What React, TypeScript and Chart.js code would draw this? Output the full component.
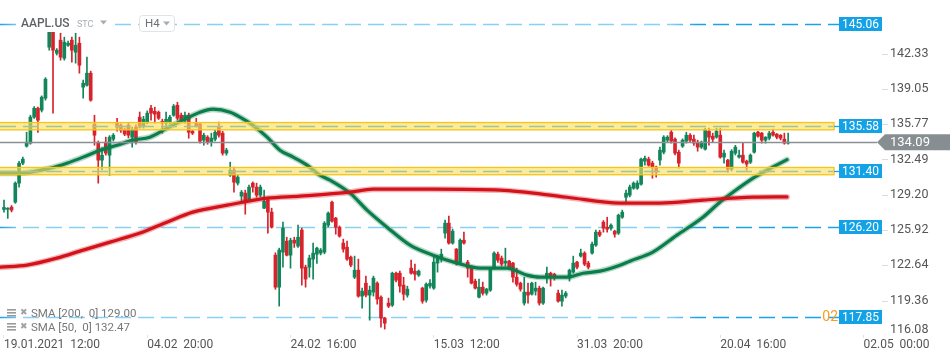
import React, { useEffect, useRef } from 'react';
import { Chart, registerables } from 'chart.js';
Chart.register(...registerables);

const OPEN = [127.83,127.85,128.04,128.51,130.28,132.14,133.72,134.00,136.42,137.25,137.07,138.18,142.93,144.50,142.37,143.58,141.90,143.11,143.58,142.46,143.30,139.21,139.39,140.51,135.77,134.00,132.42,134.09,132.88,134.37,135.86,135.67,135.21,135.67,134.56,135.49,136.42,135.58,135.95,137.25,136.97,136.88,136.04,135.86,135.95,136.60,137.53,136.60,136.32,136.60,135.11,135.86,135.77,134.28,134.56,134.09,134.37,135.49,134.93,133.07,131.02,131.49,130.28,129.07,129.35,128.70,130.28,129.91,129.16,127.95,128.70,127.58,123.58,120.60,123.86,124.88,123.58,124.97,124.42,125.91,122.46,122.46,123.21,123.67,123.77,123.86,126.37,128.51,127.02,126.18,124.70,124.32,123.39,121.53,122.18,119.77,120.97,119.86,120.14,120.97,119.67,117.72,119.12,118.93,121.90,121.90,120.79,119.86,122.37,122.09,121.72,120.51,119.40,120.70,120.51,122.84,123.21,125.63,126.56,124.70,124.14,122.93,124.97,122.93,122.46,121.16,119.67,120.60,120.04,120.32,122.37,123.67,123.30,122.84,123.02,122.84,121.53,120.97,119.12,120.14,119.95,120.23,120.51,119.12,121.53,121.90,121.81,120.04,119.30,119.77,121.44,122.00,122.93,123.49,123.77,122.84,123.77,124.51,125.72,126.65,126.18,126.09,125.81,125.63,127.11,128.97,129.16,129.81,129.81,130.18,132.32,132.51,132.14,131.77,132.42,133.16,134.28,135.02,134.37,133.16,133.72,134.18,134.74,134.37,134.09,133.63,133.44,135.11,134.65,134.56,134.74,132.70,132.42,131.58,133.07,132.70,132.88,132.32,132.23,133.16,135.02,134.93,134.28,134.46,135.02,134.84,134.74,134.37,134.00];
const HIGH = [128.70,128.00,128.20,130.40,132.30,132.70,135.02,136.60,137.40,137.35,138.40,140.10,144.70,144.70,142.80,144.23,143.86,143.50,143.86,144.23,143.86,139.86,142.00,140.70,136.60,134.20,133.60,134.56,134.70,134.90,136.32,135.80,135.40,135.90,135.50,135.70,136.90,136.50,137.00,137.53,137.35,137.00,136.23,136.88,136.60,137.60,137.81,136.80,136.88,136.80,135.20,136.32,135.86,134.93,134.70,134.93,135.20,135.95,135.10,133.53,132.23,131.77,131.00,129.60,129.63,130.10,130.40,130.28,130.10,129.63,128.97,127.95,123.80,124.23,126.65,125.25,125.16,125.25,126.37,126.09,122.65,123.58,124.70,124.32,124.20,126.70,127.60,128.60,127.10,126.30,125.07,124.88,123.50,123.49,123.21,120.51,121.63,120.70,121.63,121.10,119.80,117.80,119.58,122.00,122.00,122.10,121.53,120.70,123.11,122.74,122.20,120.60,121.00,121.30,123.58,123.58,124.14,126.84,127.21,126.00,124.20,125.10,125.72,123.10,122.60,121.35,121.35,121.07,120.50,122.40,123.90,123.86,123.50,124.23,123.10,122.90,122.37,121.07,121.53,120.97,121.07,121.07,120.70,120.60,122.46,122.00,121.90,120.32,120.32,120.20,122.28,123.49,123.00,124.14,123.90,123.00,124.79,125.91,125.90,126.80,127.11,126.50,125.90,127.40,127.77,129.63,130.10,130.40,130.50,132.60,132.79,132.70,132.32,131.86,133.63,134.70,134.70,135.20,134.50,133.35,134.40,135.02,134.90,134.74,134.28,134.20,135.40,135.40,134.93,135.40,135.40,133.35,132.50,133.40,133.80,133.35,134.00,132.42,133.00,135.02,135.11,135.00,134.60,135.10,135.30,134.90,134.80,134.93,134.93];
const LOW = [127.58,127.00,127.60,128.40,129.90,132.00,133.63,133.90,136.30,135.00,136.90,138.00,142.65,136.79,142.20,141.72,141.72,143.00,141.53,141.44,140.51,138.18,139.30,137.90,133.81,130.28,131.50,132.88,131.00,134.20,135.11,135.00,134.70,134.50,133.63,133.90,135.40,135.40,135.80,136.14,135.86,136.20,134.93,135.49,135.80,136.50,136.14,136.00,135.86,134.46,134.80,135.50,134.00,133.81,133.90,133.72,134.20,134.56,132.88,132.88,130.90,129.44,130.10,128.50,127.39,128.60,129.44,128.97,129.00,127.90,125.63,126.10,120.40,118.84,122.46,123.50,122.37,124.30,124.30,120.79,120.60,121.53,121.35,122.80,123.60,123.70,126.20,126.65,125.53,125.25,123.86,123.10,122.50,121.40,119.67,118.65,119.70,117.53,119.77,119.02,116.88,116.70,118.70,118.80,121.10,120.14,119.40,119.67,121.80,121.25,121.60,119.10,119.20,120.50,120.40,122.00,122.93,125.16,124.60,124.60,122.65,122.80,124.60,121.53,120.90,120.42,119.60,119.86,119.86,120.20,122.30,122.90,122.56,122.56,122.37,121.07,120.70,120.23,118.93,119.12,119.86,119.86,118.93,119.00,120.97,120.70,121.25,119.20,118.84,119.60,121.16,121.90,122.30,123.40,122.60,122.30,123.67,124.40,125.30,125.72,125.72,125.90,125.25,125.50,127.00,128.51,129.00,129.70,129.70,130.10,131.95,131.86,130.74,130.84,131.95,133.00,134.10,134.00,132.90,131.67,133.60,134.00,134.10,133.80,133.25,133.50,133.35,133.81,134.10,134.46,132.60,132.14,131.30,131.40,132.90,132.60,132.14,131.49,132.10,133.07,134.56,134.00,134.00,134.30,134.65,134.40,134.30,133.90,133.90];
const CLOSE = [128.02,127.90,127.77,130.28,132.14,132.51,134.09,136.42,137.25,136.14,138.28,139.95,144.51,142.65,142.65,142.00,143.39,143.30,142.65,143.11,141.25,139.58,140.51,138.00,134.74,132.42,132.88,133.07,134.56,134.74,135.49,135.21,134.84,134.74,135.21,134.09,135.49,136.23,136.79,136.79,136.70,136.32,135.86,136.23,136.42,137.44,136.32,136.14,136.60,135.02,134.93,135.58,134.18,134.74,134.09,134.46,135.02,134.74,133.07,133.35,131.49,130.37,130.84,129.44,128.51,129.91,129.91,129.16,129.91,128.60,127.58,126.18,120.60,124.05,126.09,123.58,124.97,124.70,125.25,122.37,121.35,123.30,123.77,124.23,124.05,126.56,127.49,126.74,126.18,125.35,124.14,123.21,122.65,122.18,119.77,120.23,119.86,120.32,121.44,119.49,117.72,117.25,118.84,121.90,121.25,120.70,119.95,120.42,121.90,121.81,122.09,119.30,120.88,120.97,122.93,123.39,123.67,126.56,124.70,125.81,122.93,124.97,124.70,122.37,120.97,120.51,120.60,120.04,120.42,122.28,123.77,123.11,122.74,123.02,122.46,121.53,120.88,120.42,120.14,119.86,120.97,120.51,119.12,120.51,121.90,121.53,121.53,119.30,119.86,120.04,122.18,122.84,122.46,123.77,122.74,122.46,124.60,125.72,125.44,126.09,126.00,126.37,125.53,127.30,127.58,129.35,129.91,130.28,130.28,132.51,132.60,131.95,131.77,131.30,133.35,134.56,134.56,134.18,133.07,132.14,134.28,134.74,134.28,134.00,133.63,134.09,135.21,134.56,134.37,135.11,132.70,133.07,131.58,133.25,133.63,132.88,132.23,132.05,132.88,134.93,134.65,134.28,134.56,134.93,134.74,134.56,134.46,134.00,134.09];

const SMA50_IDX = [-1,4.2,12.2,16.7,21,25.5,30,34.2,38.7,43.2,47.5,52,55.4,60,62.6,66,69.8,73.2,76.7,80.4,83.8,86.5,91.8,96.3,101.6,107.7,113.8,120.2,126.3,133.4,138.7,142.2,149.3,153.6,158.1,163.4,166,172.1,178.5,185.4,189.9,193.4,198.7,202.4,207.7];
const SMA50_VAL = [131.21,131.21,131.67,132.14,132.7,133.35,133.81,134.28,134.56,135.39,136.14,136.88,137.16,136.88,136.42,135.67,134.56,133.35,132.7,131.95,131.02,130.56,129.35,127.77,126.18,124.51,123.58,122.84,122.37,122.37,121.72,121.53,121.53,121.9,122.09,122.65,123.02,123.86,125.44,127.11,128.51,129.44,130.74,131.49,132.47];
const SMA200_IDX = [-1,6.1,14,21,28.1,36.1,43.2,50.1,59.2,69.8,78.5,91.8,97.9,113.8,131.6,149.3,163.4,174,185.4,198.7,207.7];
const SMA200_VAL = [122.46,122.65,123.3,124.05,124.79,125.63,126.65,127.58,128.23,128.88,129.07,129.44,129.72,129.72,129.63,128.97,128.42,128.42,128.7,128.97,129.0];

const X_TICK_IDX = [0, 38, 76, 114, 152, 190, 228];
const X_TICK_LABELS = ['19.01.2021  12:00', '04.02  20:00', '24.02  16:00', '15.03  12:00', '31.03  20:00', '20.04  16:00', '02.05  00:00'];
const Y_TICKS = [116.08, 119.36, 122.64, 125.92, 129.20, 132.49, 135.77, 139.05, 142.33];
const LEVELS_DASHED = [145.06, 126.20, 117.85];
const LEVELS_ZONE = [135.58, 131.40];
const LAST_PRICE = 134.09;
const SMA_LEGEND = ['SMA [200,  0] 129.00', 'SMA [50,  0] 132.47'];

const GREEN = '#12865a';
const RED = '#d8222c';
const FONT = 'Roboto, "Noto Sans", sans-serif';
const ZONE_HALF = 0.34;

const overlay = {
  id: 'overlay',
  beforeDatasetsDraw(chart: any) {
    const { ctx, chartArea, scales } = chart;
    const y = scales.y;
    const boxL = chartArea.right - 43;
    ctx.save();
    const grad = ctx.createLinearGradient(chartArea.left, 0, boxL, 0);
    grad.addColorStop(0, '#1aa3e6');
    grad.addColorStop(0.025, '#86d1f5');
    grad.addColorStop(0.8, '#86d1f5');
    grad.addColorStop(0.83, '#1aa3e6');
    grad.addColorStop(1, '#1aa3e6');
    ctx.setLineDash([16, 7]);
    ctx.lineWidth = 1.5;
    ctx.strokeStyle = grad;
    for (const v of LEVELS_DASHED) {
      const py = Math.round(y.getPixelForValue(v)) + 0.5;
      ctx.beginPath();
      ctx.moveTo(chartArea.left, py);
      ctx.lineTo(boxL, py);
      ctx.stroke();
    }
    ctx.restore();
  },
  afterDatasetsDraw(chart: any) {
    const { ctx, chartArea, scales } = chart;
    const y = scales.y;
    const boxL = chartArea.right - 43;
    const W = chart.width;
    ctx.save();

    const lp = Math.round(y.getPixelForValue(LAST_PRICE)) + 0.5;
    ctx.strokeStyle = '#8a9094';
    ctx.lineWidth = 1.3;
    ctx.beginPath();
    ctx.moveTo(chartArea.left, lp);
    ctx.lineTo(chartArea.right - 5, lp);
    ctx.stroke();

    for (const v of LEVELS_ZONE) {
      const t = y.getPixelForValue(v + ZONE_HALF);
      const b = y.getPixelForValue(v - ZONE_HALF);
      const c = Math.round(y.getPixelForValue(v)) + 0.5;
      ctx.fillStyle = 'rgba(252, 222, 95, 0.62)';
      ctx.fillRect(chartArea.left, t, boxL - 5 - chartArea.left, b - t);
      ctx.strokeStyle = '#f5c518';
      ctx.lineWidth = 1.3;
      ctx.strokeRect(chartArea.left - 1, t, boxL - 5 - chartArea.left + 1, b - t);
      ctx.setLineDash([16, 7]);
      ctx.strokeStyle = '#a3c496';
      ctx.lineWidth = 1.5;
      ctx.beginPath();
      ctx.moveTo(chartArea.left, c);
      ctx.lineTo(boxL - 6, c);
      ctx.stroke();
      ctx.setLineDash([]);
      ctx.strokeStyle = '#1aa3e6';
      ctx.lineWidth = 1.3;
      ctx.beginPath();
      ctx.moveTo(boxL - 5, c);
      ctx.lineTo(boxL, c);
      ctx.stroke();
    }

    ctx.fillStyle = '#ff9a1f';
    ctx.font = `14px ${FONT}`;
    ctx.textAlign = 'right';
    ctx.textBaseline = 'middle';
    ctx.fillText('02', boxL - 1, y.getPixelForValue(LEVELS_DASHED[2]) + 1);

    ctx.font = `12px ${FONT}`;
    ctx.textAlign = 'center';
    for (const v of [...LEVELS_DASHED, ...LEVELS_ZONE]) {
      const py = y.getPixelForValue(v);
      ctx.fillStyle = '#14a2e6';
      ctx.fillRect(boxL, Math.round(py) - 7, 43, 14);
      ctx.fillStyle = '#ffffff';
      ctx.fillText(v.toFixed(2), boxL + 21.5, Math.round(py) + 0.5);
    }

    ctx.textAlign = 'left';
    ctx.font = `12.5px ${FONT}`;
    for (const v of Y_TICKS) {
      const py = y.getPixelForValue(v);
      if (py <= chartArea.bottom - 2) {
        ctx.strokeStyle = '#dcdcdc';
        ctx.lineWidth = 1;
        ctx.beginPath();
        ctx.moveTo(chartArea.right, Math.round(py) + 0.5);
        ctx.lineTo(chartArea.right + 6, Math.round(py) + 0.5);
        ctx.stroke();
      }
      ctx.fillStyle = '#555555';
      ctx.fillText(v.toFixed(2), chartArea.right + 8, Math.min(py, chartArea.bottom - 5));
    }

    const ly = y.getPixelForValue(LAST_PRICE);
    ctx.fillStyle = '#878e92';
    ctx.beginPath();
    ctx.moveTo(chartArea.right - 5, ly);
    ctx.lineTo(chartArea.right + 3, ly - 8);
    ctx.lineTo(W, ly - 8);
    ctx.lineTo(W, ly + 8);
    ctx.lineTo(chartArea.right + 3, ly + 8);
    ctx.closePath();
    ctx.fill();
    ctx.fillStyle = '#ffffff';
    ctx.font = `13px ${FONT}`;
    ctx.fillText(LAST_PRICE.toFixed(2), chartArea.right + 8, ly + 0.5);

    ctx.fillStyle = '#ffffff';
    ctx.fillRect(18, 16, 92, 16);
    ctx.font = `500 12px ${FONT}`;
    ctx.fillStyle = '#5f6368';
    ctx.textAlign = 'left';
    ctx.fillText('AAPL.US', 21, 24);
    ctx.font = `9px ${FONT}`;
    ctx.fillStyle = '#a9adb3';
    ctx.fillText('STC', 77, 25);
    ctx.beginPath();
    ctx.moveTo(100, 20.5); ctx.lineTo(107, 20.5); ctx.lineTo(103.5, 24.5); ctx.closePath(); ctx.fill();
    ctx.fillStyle = '#ffffff';
    ctx.strokeStyle = '#e1e3e6';
    ctx.lineWidth = 1;
    ctx.beginPath();
    (ctx as any).roundRect(139.5, 15.5, 35, 16, 3);
    ctx.fill();
    ctx.stroke();
    ctx.fillStyle = '#6b7075';
    ctx.font = `11.5px ${FONT}`;
    ctx.fillText('H4', 145, 24);
    ctx.fillStyle = '#a9adb3';
    ctx.beginPath();
    ctx.moveTo(163, 21.5); ctx.lineTo(170, 21.5); ctx.lineTo(166.5, 25.5); ctx.closePath(); ctx.fill();

    const rows = [314, 328];
    SMA_LEGEND.forEach((txt, i) => {
      const cy = rows[i];
      ctx.fillStyle = '#9a9a9a';
      ctx.fillRect(7, cy - 5, 9, 1.6);
      ctx.fillRect(7, cy - 2, 9, 1.6);
      ctx.fillRect(7, cy + 1, 9, 1.6);
      ctx.font = `9px ${FONT}`;
      ctx.fillStyle = '#a0a0a0';
      ctx.fillText('✖', 19.5, cy - 1);
      ctx.font = `11.5px ${FONT}`;
      ctx.fillStyle = '#777777';
      ctx.fillText(txt, 31, cy + 0.5);
    });

    ctx.restore();
  },
};

export default function App() {
  const ref = useRef<HTMLCanvasElement | null>(null);
  useEffect(() => {
    const canvas = ref.current;
    if (!canvas) return;
    const colors = OPEN.map((o, i) => (CLOSE[i] >= o ? GREEN : RED));
    const wick = OPEN.map((o, i) => ({ x: i, y: [LOW[i], HIGH[i]] }));
    const body = OPEN.map((o, i) => ({ x: i, y: [Math.min(o, CLOSE[i]), Math.max(o, CLOSE[i])] }));
    const sma50 = SMA50_IDX.map((x, i) => ({ x, y: SMA50_VAL[i] }));
    const sma200 = SMA200_IDX.map((x, i) => ({ x, y: SMA200_VAL[i] }));
    const lineBase = { pointRadius: 0, cubicInterpolationMode: 'monotone', fill: false, borderCapStyle: 'round' };
    const chart = new Chart(canvas, {
      type: 'bar',
      data: {
        datasets: [
          { type: 'line', data: sma200, borderColor: '#d4121a', borderWidth: 3.2, order: 0, ...lineBase } as any,
          { type: 'line', data: sma200, borderColor: 'rgba(212,18,26,0.3)', borderWidth: 6, order: 0.5, ...lineBase } as any,
          { type: 'line', data: sma50, borderColor: '#0b7d4b', borderWidth: 3.2, order: 0, ...lineBase } as any,
          { type: 'line', data: sma50, borderColor: 'rgba(11,125,75,0.3)', borderWidth: 6, order: 0.5, ...lineBase } as any,
          { type: 'bar', data: body, backgroundColor: colors, barThickness: 3, grouped: false, minBarLength: 1, order: 1 } as any,
          { type: 'bar', data: wick, backgroundColor: colors, barThickness: 1, grouped: false, order: 2 } as any,
        ],
      },
      options: {
        animation: false,
        responsive: false,
        devicePixelRatio: 1,
        layout: { padding: 0 },
        plugins: { legend: { display: false }, tooltip: { enabled: false } },
        events: [],
        scales: {
          x: {
            type: 'linear',
            offset: false,
            min: -1.06,
            max: 232.9,
            afterBuildTicks: (s: any) => { s.ticks = X_TICK_IDX.map((v) => ({ value: v })); },
            afterFit: (s: any) => { s.height = 26; },
            ticks: {
              callback: (_v: any, i: number) => X_TICK_LABELS[i],
              align: 'start',
              autoSkip: false,
              maxRotation: 0,
              padding: 0,
              color: '#555555',
              font: { family: 'Roboto', size: 12 },
            },
            grid: { offset: false, drawOnChartArea: false, tickLength: 3, color: '#e3e3e3' },
            border: { display: false },
          },
          y: {
            type: 'linear',
            position: 'right',
            min: 116.15,
            max: 147.32,
            afterFit: (s: any) => { s.width = 68; },
            ticks: { display: false },
            grid: { display: false },
            border: { display: false },
          },
        },
      } as any,
      plugins: [overlay],
    });
    return () => chart.destroy();
  }, []);
  return (
    <div style={{ position: 'absolute', left: 0, top: 0, width: 950, height: 361, background: '#ffffff' }}>
      <canvas ref={ref} width={950} height={361} style={{ display: 'block' }} />
    </div>
  );
}
